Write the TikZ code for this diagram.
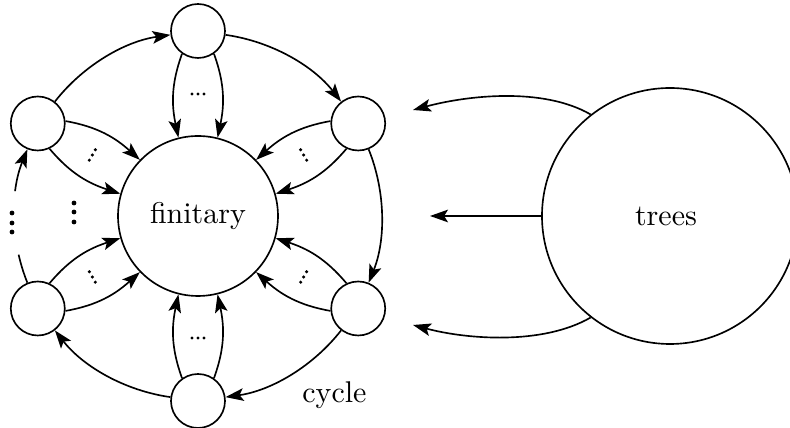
\documentclass[tikz,border=0pt]{standalone}
\usetikzlibrary{arrows.meta,calc}
\begin{document}
\begin{tikzpicture}[x=0.33333pt,y=0.33333pt,line width=0.55pt,
  >={Stealth[length=6pt,width=4.2pt,inset=1.3pt]},
  smallnode/.style={circle,draw,minimum size=18pt,inner sep=0pt},
  bignode/.style={circle,draw,inner sep=0pt},
  cyclearrow/.style={->,bend left=22,looseness=0.88},
  pairarrow/.style={->},
  bigdot/.style={fill=black},
  smalldot/.style={fill=black}]
\clip (0,0) rectangle (790,428);
\coordinate (c) at (198,212);
\node[bignode,minimum size=53.33pt] (fin) at (c) {finitary};
\foreach \i/\t in {1/90,2/30,3/-30,4/-90,5/210,6/150}
  \node[smallnode] (o\i) at ($(c)+(\t:185)$) {};
% double arrows to the centre
\foreach \i/\t in {1/90,2/30,3/-30,4/-90,5/210,6/150}{
  \pgfmathtruncatemacro\aa{mod(\t+145+720,360)}
  \pgfmathtruncatemacro\ab{mod(\t+14+720,360)}
  \pgfmathtruncatemacro\ac{mod(\t+215+720,360)}
  \pgfmathtruncatemacro\ad{mod(\t-14+720,360)}
  \draw[pairarrow] (o\i.\aa) to[out=\t+160,in=\t+12] (fin.\ab);
  \draw[pairarrow] (o\i.\ac) to[out=\t+200,in=\t-12] (fin.\ad);
  \foreach \k in {-1,0,1}
    \fill[smalldot] ($(c)+(\t:122)+(\t+90:{\k*6})$) circle[radius=1.7];
}
% cycle arrows
\draw[cyclearrow] (o6) to (o1);
\draw[cyclearrow] (o1) to (o2);
\draw[cyclearrow] (o2) to (o3);
\draw[cyclearrow] (o3) to (o4);
\draw[cyclearrow] (o4) to (o5);
\draw[cyclearrow,dash pattern=on 9.8pt off 21.3pt on 60pt off 1pt] (o5) to (o6);
% big dots
\foreach \y in {215,205,196} \fill[bigdot] (12,\y) circle[radius=2.4];
\foreach \y in {225,216,206} \fill[bigdot] (74,\y) circle[radius=2.4];
\node[anchor=base] (cyc) at (334.5,25) {cycle};
% trees
\node[bignode,minimum size=85.33pt] (trees) at (670,212) {};
\node (treeslabel) at (666,212) {trees};
\coordinate (t1) at (413,318);
\coordinate (t2) at (430,212);
\coordinate (t3) at (413,103);
\draw[->] (trees.128) to[out=150,in=15,looseness=0.8] (t1);
\draw[->] (trees.west) -- (t2);
\draw[->] (trees.232) to[out=210,in=-15,looseness=0.8] (t3);
\end{tikzpicture}
\end{document}
